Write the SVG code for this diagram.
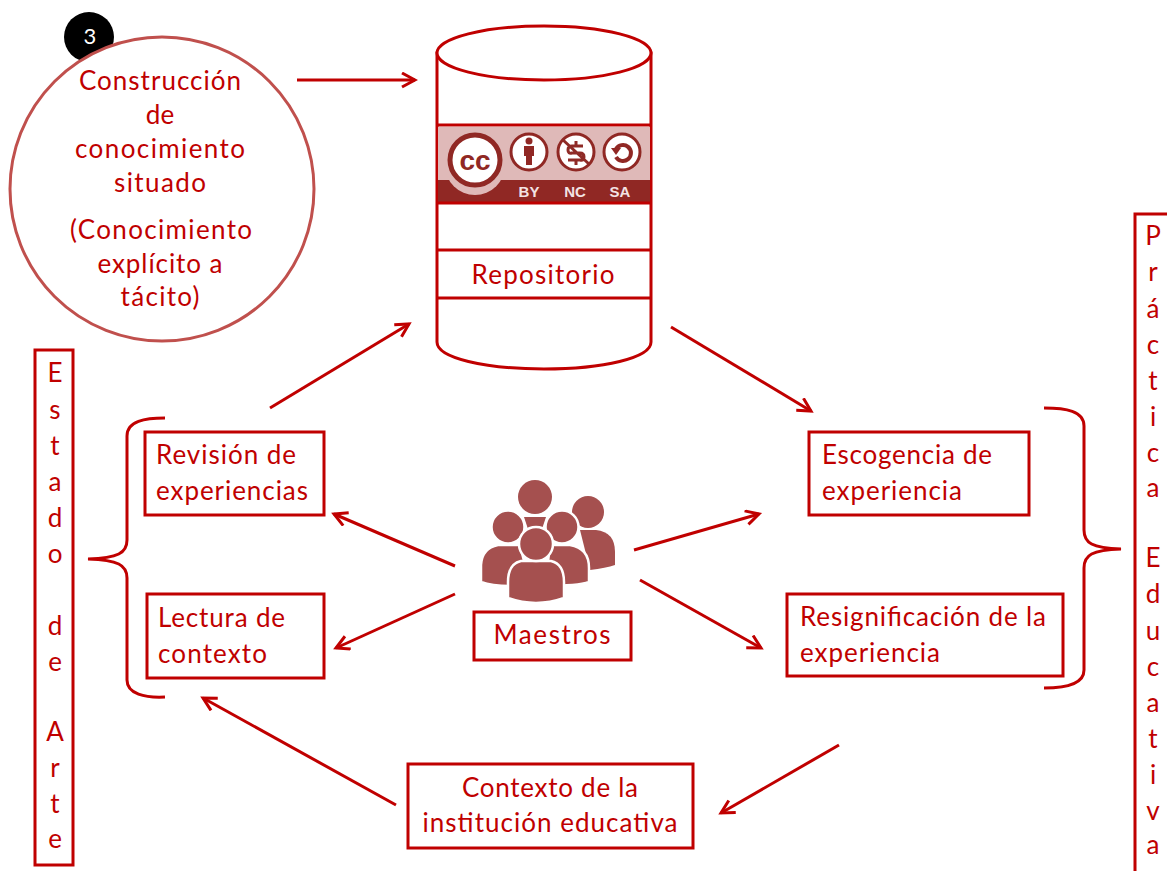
<svg xmlns="http://www.w3.org/2000/svg" width="1167" height="871" viewBox="0 0 1167 871">
<style>
text{font-family:Lato,"Open Sans","Liberation Sans",sans-serif;font-size:26px;fill:#c00000}
.c{text-anchor:middle}
.b{fill:#fff;stroke:#c00000;stroke-width:3}
.l{fill:none;stroke:#c00000;stroke-width:3}
.a{fill:none;stroke:#c00000;stroke-width:3;marker-end:url(#ah)}
.p{fill:#a5504f}
.o{fill:#a5504f;stroke:#fff;stroke-width:2.500}
.d{fill:none;stroke:#8f2a26;stroke-width:3}
.t{font-family:"Liberation Sans",sans-serif;font-size:15px;font-weight:bold;fill:#f3e3e3}
</style>
<defs>
<marker id="ah" markerUnits="userSpaceOnUse" markerWidth="18" markerHeight="18" refX="15" refY="8" orient="auto"><path d="M2 1L15 8L2 15" fill="none" stroke="#c00000" stroke-width="3"/></marker>
</defs>
<rect width="1167" height="871" fill="#fff"/>
<g id="connectors">
<path class="a" d="M297 80H415"/>
<path class="a" d="M270 408L409 324"/>
<path class="a" d="M671 327L811 411"/>
<path class="a" d="M634 550L759 514"/>
<path class="a" d="M640 580L761 648"/>
<path class="a" d="M455 566L334 514"/>
<path class="a" d="M455 594L336 648"/>
<path class="a" d="M839 745L721 813"/>
<path class="a" d="M396 805L203 698"/>
<path class="l" d="M165 418C145 418 127 421 127 436V540C127 553 118 558 88 559C118 560 127 565 127 578V680C127 694 145 698 165 697"/>
<path class="l" d="M1044 408C1066 408 1084 411 1084 426V530C1084 543 1092 548 1121 549C1092 550 1084 555 1084 568V670C1084 684 1066 688 1044 688"/>
</g>
<g id="badge"><circle cx="89" cy="37" r="25" fill="#000"/><text class="c" x="90" y="44" style="fill:#fff;font-size:22px">3</text></g>
<g id="circulo">
<circle cx="162" cy="189" r="152" fill="#fff" stroke="#c0504d" stroke-width="3"/>
<text class="c" x="160" y="90" textLength="162">Construcción</text>
<text class="c" x="160" y="124">de</text>
<text class="c" x="160" y="158" textLength="170">conocimiento</text>
<text class="c" x="160" y="192" textLength="92">situado</text>
<text class="c" x="161" y="239" textLength="182">(Conocimiento</text>
<text class="c" x="160" y="273" textLength="125">explícito a</text>
<text class="c" x="160" y="306" textLength="79">tácito)</text>
</g>
<g id="repositorio">
<path class="b" d="M437 53V342C437 358 485 369 544 369S651 358 651 342V53Z"/>
<ellipse class="b" cx="544" cy="53" rx="107" ry="27"/>
<rect x="438" y="127" width="212" height="53" fill="#dfb9b8"/>
<rect x="438" y="180" width="212" height="22" fill="#902824"/>
<path class="l" d="M437 125H651M437 203H651M437 250H651M437 298H651"/>
<circle cx="475" cy="165" r="30" fill="#dfb9b8"/>
<circle cx="475" cy="160" r="25" fill="#fff" stroke="#902824" stroke-width="5"/>
<text class="c" x="475" y="170" style="font-family:'Liberation Sans',sans-serif;font-size:28px;font-weight:bold;fill:#902824">cc</text>
<circle cx="529" cy="152" r="18" fill="#fff" stroke="#902824" stroke-width="3"/>
<circle cx="529" cy="141" r="3.500" fill="#902824"/>
<path fill="#902824" d="M524 146H534V156H532V165H526V156H524Z"/>
<circle cx="576" cy="152" r="18" fill="#fff" stroke="#902824" stroke-width="3"/>
<path class="d" d="M563 140L589 164M583 146H572Q568 146 568 150T572 153H580Q584 153 584 157T580 160H568M576 141V146M576 160V165"/>
<circle cx="622" cy="152" r="18" fill="#fff" stroke="#902824" stroke-width="3"/>
<path fill="none" stroke="#902824" stroke-width="4" d="M616 149A8 8 0 1 1 616 157"/>
<path fill="#902824" d="M611 148H621L616 155Z"/>
<text class="t c" x="529" y="197">BY</text>
<text class="t c" x="575" y="197">NC</text>
<text class="t c" x="620" y="197">SA</text>
<text class="c" x="543" y="284" textLength="143">Repositorio</text>
</g>
<g id="maestros-icono">
<circle class="p" cx="535" cy="497" r="17"/>
<path class="p" d="M524 517H546L542 529H528Z"/>
<circle class="p" cx="588" cy="512" r="16"/>
<path class="p" d="M580 530H596Q615 532 615 552V565Q606 568 590 570Z"/>
<circle class="o" cx="508" cy="527" r="16.500"/>
<path class="o" d="M498 545H520L530 585Q497 588 481 582V565Q482 548 498 545Z"/>
<circle class="o" cx="562" cy="527" r="16.500"/>
<path class="o" d="M550 545H570Q589 548 589 568V582Q578 586 545 586Z"/>
<path class="o" d="M521 561H551Q564 564 564 582V598Q536 608 508 598V582Q508 564 521 561Z"/>
<circle class="o" cx="536" cy="544" r="17"/>
</g>
<g id="n-maestros"><rect class="b" x="474" y="612" width="157" height="48"/><text class="c" x="552" y="644" textLength="117">Maestros</text></g>
<g id="n-revision"><rect class="b" x="145" y="432" width="179" height="83"/><text x="156" y="464" textLength="140">Revisión de</text><text x="156" y="500" textLength="152">experiencias</text></g>
<g id="n-lectura"><rect class="b" x="147" y="594" width="177" height="84"/><text x="158" y="627" textLength="127">Lectura de</text><text x="158" y="663" textLength="109">contexto</text></g>
<g id="n-escogencia"><rect class="b" x="809" y="432" width="220" height="83"/><text x="822" y="464" textLength="170">Escogencia de</text><text x="822" y="500" textLength="140">experiencia</text></g>
<g id="n-resignificacion"><rect class="b" x="787" y="594" width="276" height="82"/><text x="800" y="626" textLength="246">Resignificación de la</text><text x="800" y="662" textLength="140">experiencia</text></g>
<g id="n-contexto"><rect class="b" x="408" y="764" width="285" height="84"/><text class="c" x="550" y="797" textLength="176">Contexto de la</text><text class="c" x="550" y="832" textLength="255">institución educativa</text></g>
<g id="n-estado"><rect class="b" x="35" y="350" width="38" height="515"/>
<text class="c" x="55" y="382">E</text><text class="c" x="55" y="419">s</text><text class="c" x="55" y="455">t</text><text class="c" x="55" y="491">a</text><text class="c" x="55" y="527">d</text><text class="c" x="55" y="563">o</text><text class="c" x="55" y="635">d</text><text class="c" x="55" y="671">e</text><text class="c" x="55" y="741">A</text><text class="c" x="55" y="777">r</text><text class="c" x="55" y="813">t</text><text class="c" x="55" y="848">e</text></g>
<g id="n-practica"><path class="b" d="M1167 214H1135V871"/>
<text class="c" x="1153" y="245">P</text><text class="c" x="1153" y="281">r</text><text class="c" x="1153" y="318">á</text><text class="c" x="1153" y="354">c</text><text class="c" x="1153" y="390">t</text><text class="c" x="1153" y="426">i</text><text class="c" x="1153" y="462">c</text><text class="c" x="1153" y="497">a</text><text class="c" x="1153" y="567">E</text><text class="c" x="1153" y="603">d</text><text class="c" x="1153" y="640">u</text><text class="c" x="1153" y="676">c</text><text class="c" x="1153" y="712">a</text><text class="c" x="1153" y="748">t</text><text class="c" x="1153" y="784">i</text><text class="c" x="1153" y="820">v</text><text class="c" x="1153" y="854">a</text></g>
</svg>
